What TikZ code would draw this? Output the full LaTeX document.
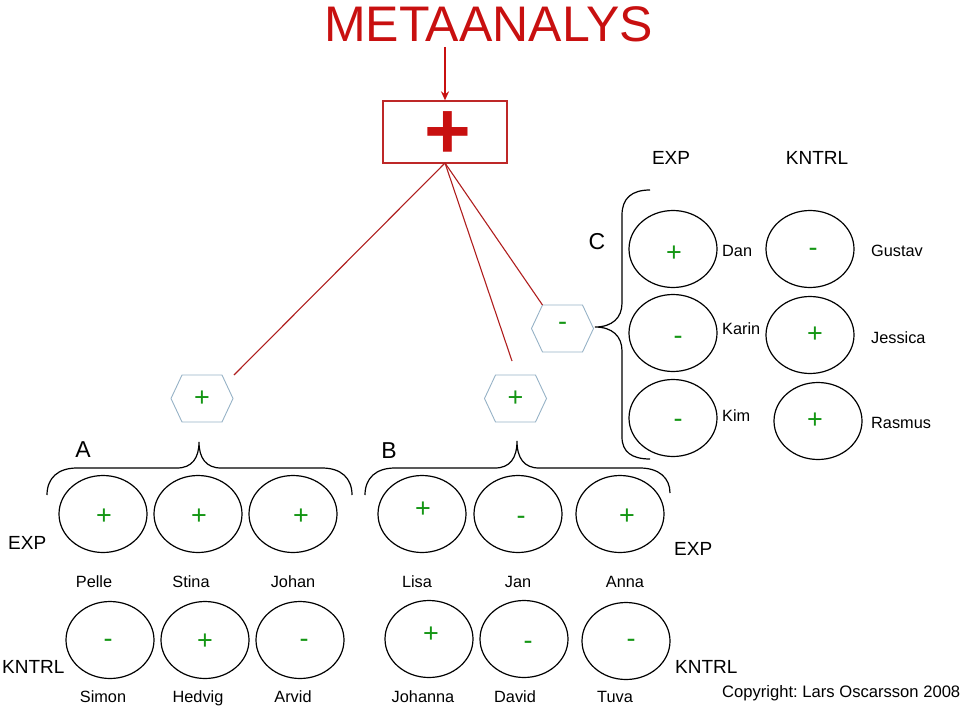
\documentclass[tikz,border=0pt]{standalone}
\usepackage{fontspec}
\setmainfont{Liberation Sans}
\usetikzlibrary{shapes.geometric,arrows.meta,calc}
\definecolor{titlered}{RGB}{200,16,16}
\definecolor{boxred}{RGB}{190,40,40}
\definecolor{linered}{RGB}{175,30,30}
\definecolor{symgreen}{RGB}{20,150,20}
\definecolor{hexblue}{RGB}{150,178,198}
\frenchspacing
\begin{document}
\begin{tikzpicture}[x=1pt,y=-1pt,
  ell/.style={draw=black, line width=1.2pt, ellipse, minimum width=88pt, minimum height=77pt, inner sep=0pt},
  sym/.style={text=symgreen, inner sep=0pt, font=\fontsize{27}{27}\selectfont},
  pname/.style={inner sep=0pt, text height=11.7pt, text depth=0pt, font=\fontsize{16.3}{17}\selectfont},
  grp/.style={inner sep=0pt, text height=13.6pt, text depth=0pt, font=\fontsize{19}{20}\selectfont},
  letter/.style={inner sep=0pt, text height=16.5pt, text depth=0pt, font=\fontsize{23}{24}\selectfont},
  hexline/.style={draw=hexblue, line width=0.9pt},
  brace/.style={draw=black, line width=1.2pt},
  redline/.style={draw=linered, line width=1.1pt}
]
\useasboundingbox (0,0) rectangle (960,706);

% title, arrow, result box
\node[inner sep=0pt, text height=35.8pt, text depth=0pt, text=titlered, font=\fontsize{50}{50}\selectfont] (title) at (488.5,23.5) {METAANALYS};
\node[draw=boxred, line width=1.3pt, minimum width=124pt, minimum height=62pt, inner sep=0pt] (box) at (445,132) {};
\node[inner sep=0pt, text=titlered, font=\bfseries\fontsize{80}{80}\selectfont] (bigplus) at (448,135) {+};
\coordinate (arrowtop) at (445,47);
\draw[draw=titlered, line width=1.4pt, -{Stealth[length=9pt,width=8pt]}] (arrowtop) -- (box.north);

% hexagons
\node[sym] (hA) at (202,398.5) {+};
\node[sym] (hB) at (515.5,398.5) {+};
\node[sym] (hC) at (562.5,326) {-};
\draw[hexline] (171,398.5) -- (182,375) -- (222,375) -- (233,398.5) -- (222,422) -- (182,422) -- cycle;
\draw[hexline] (484.5,398.5) -- (495.5,375) -- (535.5,375) -- (546.5,398.5) -- (535.5,422) -- (495.5,422) -- cycle;
\draw[hexline] (531.5,328.5) -- (542.5,305) -- (582.5,305) -- (593.5,328.5) -- (582.5,352) -- (542.5,352) -- cycle;

% red connectors
\coordinate (boxfoot) at (445,163);
\coordinate (endA) at (234,375);
\coordinate (endB) at (512,361);
\coordinate (endC) at (542.5,305);
\draw[redline] (boxfoot) -- (endA);
\draw[redline] (boxfoot) -- (endB);
\draw[redline] (boxfoot) -- (endC);

% braces
\draw[brace] (47,495) .. controls (47,478) and (58,468) .. (77,468) -- (177,468)
  .. controls (192,468) and (199,458) .. (199,442)
  .. controls (199,458) and (206,468) .. (221,468) -- (322,468)
  .. controls (341,468) and (352,478) .. (352,495);
\draw[brace] (365,495) .. controls (365,478) and (376,468) .. (395,468) -- (495,468)
  .. controls (510,468) and (517,458) .. (517,441)
  .. controls (517,458) and (524,468) .. (539,468) -- (640,468)
  .. controls (659,468) and (670,478) .. (670,493);
\draw[brace] (650,190) .. controls (632,190) and (622,198) .. (622,215) -- (622,303)
  .. controls (622,318) and (612,327) .. (595,327)
  .. controls (612,327) and (622,336) .. (622,351) -- (622,437)
  .. controls (622,452) and (632,459) .. (650,459);

% group letters
\node[letter] (lA) at (83,449.5) {A};
\node[letter] (lB) at (389,450) {B};
\node[letter] (lC) at (597,241) {C};

% EXP / KNTRL labels
\node[grp, anchor=west] (expL) at (8,542.5) {EXP};
\node[grp, anchor=west] (kntrlL) at (2,667) {KNTRL};
\node[grp, anchor=west] (expR) at (674,548.5) {EXP};
\node[grp, anchor=west] (kntrlR) at (675,667) {KNTRL};
\node[grp] (expC) at (671,158) {EXP};
\node[grp] (kntrlC) at (817,158) {KNTRL};

% group A
\node[ell] (pelle) at (103,514) {};
\node[ell] (stina) at (198,514) {};
\node[ell] (johan) at (293,514) {};
\node[ell] (simon) at (110,640) {};
\node[ell] (hedvig) at (205,640) {};
\node[ell] (arvid) at (300,640) {};
\node[sym] at (104,517) {+};
\node[sym] at (199,517) {+};
\node[sym] at (301,517) {+};
\node[sym] at (108,643) {-};
\node[sym] at (205,642) {+};
\node[sym] at (304,643) {-};
\node[pname] at (94,581.5) {Pelle};
\node[pname] at (191,581.5) {Stina};
\node[pname] at (293,581.5) {Johan};
\node[pname] at (103,697) {Simon};
\node[pname] at (198,697) {Hedvig};
\node[pname] at (293,697) {Arvid};

% group B
\node[ell] (lisa) at (422,514) {};
\node[ell] (jan) at (518,514) {};
\node[ell] (anna) at (620,514) {};
\node[ell] (johanna) at (429,639) {};
\node[ell] (david) at (524,639) {};
\node[ell] (tuva) at (626,641) {};
\node[sym] at (423,510) {+};
\node[sym] at (521,520) {-};
\node[sym] at (627,517) {+};
\node[sym] at (431,635) {+};
\node[sym] at (528,645) {-};
\node[sym] at (631,643) {-};
\node[pname] at (417,581.5) {Lisa};
\node[pname] at (518,581.5) {Jan};
\node[pname] at (625,581.5) {Anna};
\node[pname] at (423,697) {Johanna};
\node[pname] at (515,697) {David};
\node[pname] at (615,697) {Tuva};

% group C
\node[ell] (dan) at (673,249) {};
\node[ell] (karin) at (673,333) {};
\node[ell] (kim) at (673,418) {};
\node[ell] (gustav) at (810,249) {};
\node[ell] (jessica) at (810,335) {};
\node[ell] (rasmus) at (818,421) {};
\node[sym] at (674,254) {+};
\node[sym] at (678,340) {-};
\node[sym] at (678,423) {-};
\node[sym] at (813,252) {-};
\node[sym] at (815,335) {+};
\node[sym] at (815,421) {+};
\node[pname, anchor=west] at (722,251) {Dan};
\node[pname, anchor=west] at (722,329) {Karin};
\node[pname, anchor=west] at (722,416) {Kim};
\node[pname, anchor=west] at (871,251) {Gustav};
\node[pname, anchor=west] at (871,338) {Jessica};
\node[pname, anchor=west] at (871,423) {Rasmus};

% copyright
\node[inner sep=0pt, text height=11.9pt, text depth=0pt, anchor=west, font=\fontsize{16.6}{17}\selectfont] (copy) at (722,692) {Copyright: Lars Oscarsson 2008};
\end{tikzpicture}
\end{document}
